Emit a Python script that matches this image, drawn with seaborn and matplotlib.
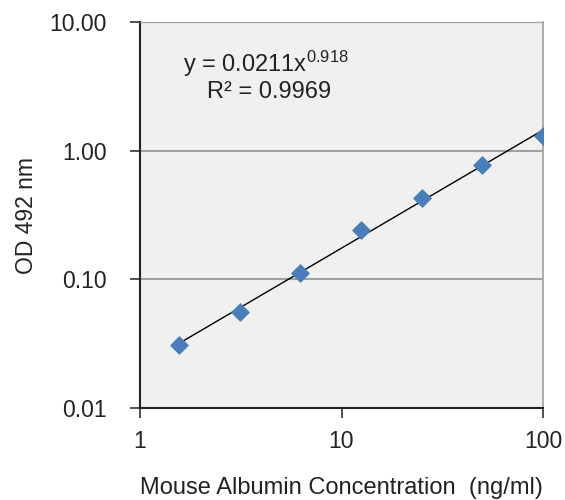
import numpy as np
import pandas as pd
import seaborn as sns
import matplotlib.pyplot as plt

# standard curve readings
conc = [1.5625, 3.125, 6.25, 12.5, 25, 50, 100]
od = [0.031, 0.056, 0.112, 0.243, 0.429, 0.778, 1.31]

# power trendline shown on the chart
coef_a = 0.0211
coef_b = 0.918
r_squared = 0.9969

y_ticks = [0.01, 0.1, 1, 10]
y_labels = ['0.01', '0.10', '1.00', '10.00']
x_ticks = [1, 10, 100]
x_labels = ['1', '10', '100']

FS = 16.5


def main():
    sns.set_style('white')
    plt.rcParams['font.family'] = ['Liberation Sans', 'DejaVu Sans']
    plt.rcParams['mathtext.fontset'] = 'custom'
    plt.rcParams['mathtext.rm'] = 'Liberation Sans'
    plt.rcParams['mathtext.it'] = 'Liberation Sans'

    df = pd.DataFrame({'conc': conc, 'od': od})
    df['fit'] = coef_a * np.power(df['conc'], coef_b)

    fig = plt.figure(figsize=(5.65, 5.0), dpi=100)
    ax = fig.add_axes([140 / 565, 1 - 408 / 500, 403 / 565, 386 / 500])
    ax.set_facecolor('#f0f0f0')

    ax.set_xscale('log')
    ax.set_yscale('log')
    ax.set_xlim(1, 100)
    ax.set_ylim(0.01, 10)

    for yv in [0.1, 1, 10]:
        ax.axhline(yv, color='#a0a0a0', lw=1.5, zorder=0)

    sns.lineplot(data=df, x='conc', y='fit', ax=ax, color='black', lw=1.0, zorder=2)
    sns.scatterplot(data=df, x='conc', y='od', ax=ax, marker='D', s=80,
                    color='#4a7ebb', edgecolor='#4a7ebb', zorder=3)

    ax.set_xticks(x_ticks)
    ax.set_xticklabels(x_labels)
    ax.set_yticks(y_ticks)
    ax.set_yticklabels(y_labels)
    ax.minorticks_off()
    ax.tick_params(axis='both', direction='out', length=7, width=1.2, color='#333333',
                   labelsize=FS, labelcolor='#222222')
    ax.tick_params(axis='x', pad=9)
    ax.tick_params(axis='y', pad=17)
    ax.xaxis.set_ticks_position('bottom')
    ax.yaxis.set_ticks_position('left')

    ax.spines['left'].set_color('#222222')
    ax.spines['left'].set_linewidth(1.5)
    ax.spines['bottom'].set_color('#222222')
    ax.spines['bottom'].set_linewidth(1.5)
    ax.spines['top'].set_color('#a0a0a0')
    ax.spines['right'].set_color('#a0a0a0')
    ax.spines['right'].set_linewidth(1.2)

    ax.set_xlabel('Mouse Albumin Concentration  (ng/ml)', fontsize=17, color='#222222', labelpad=17)
    ax.set_ylabel('OD 492 nm', fontsize=FS, color='#222222', labelpad=8)

    ax.text(0.107, 0.870, 'y = %.4fx$^{%.3f}$' % (coef_a, coef_b), transform=ax.transAxes,
            fontsize=17, color='#222222', va='baseline')
    ax.text(0.166, 0.802, 'R² = %.4f' % r_squared, transform=ax.transAxes,
            fontsize=17, color='#222222', va='baseline')

    fig.savefig('out.png', dpi=100)


if __name__ == '__main__':
    main()
